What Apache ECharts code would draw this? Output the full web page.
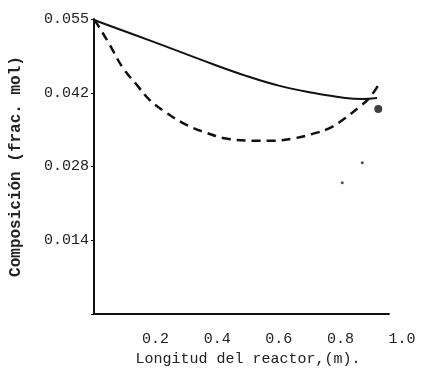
<!DOCTYPE html>
<html><head><meta charset="utf-8">
<script src="https://cdn.jsdelivr.net/npm/echarts@6/dist/echarts.min.js"></script>
<style>html,body{margin:0;padding:0;background:#fff}#c{width:424px;height:372px}</style>
</head><body><div id="c"></div>
<script>
// Solid curve: [longitud (m), composición]
const solidX = [0, 0.187, 0.387, 0.494, 0.603, 0.71, 0.816, 0.871, 0.919];
const solidY = [0.0558, 0.0518, 0.0474, 0.0452, 0.0433, 0.0420, 0.0410, 0.0408, 0.0410];
// Dashed curve
const dashX = [0, 0.013, 0.052, 0.094, 0.139, 0.181, 0.235, 0.30, 0.365, 0.429, 0.516, 0.581, 0.645, 0.71, 0.765, 0.816, 0.861, 0.894, 0.926];
const dashY = [0.0558, 0.0548, 0.0510, 0.0467, 0.0435, 0.0406, 0.0382, 0.0359, 0.0344, 0.0333, 0.0329, 0.0329, 0.0333, 0.0342, 0.0353, 0.0372, 0.0393, 0.0410, 0.0437];
// Isolated points
const bigDotX = [0.923];
const bigDotY = [0.0389];
const smallDotX = [0.871, 0.806];
const smallDotY = [0.0287, 0.0249];
// Axis ticks / labels
const yTickValues = [0.014, 0.028, 0.042, 0.056];
const yTickLabels = ['0.014', '0.028', '0.042', '0.055'];
const xTickLabels = {0.2: '0.2', 0.4: '0.4', 0.6: '0.6', 0.8: '0.8', 1: '1.0'};
// Drawn extent of the horizontal axis line (stops short of 1.0)
const xAxisLineX = [0, 0.96];
const xAxisLineY = [0, 0];

const zip = (a, b) => a.map((v, i) => [v, b[i]]);
const font = '"Liberation Mono", "DejaVu Sans Mono", monospace';

const chart = echarts.init(document.getElementById('c'), null, {renderer: 'canvas'});
chart.setOption({
  animation: false,
  backgroundColor: '#fff',
  grid: {left: 92, right: 22, top: 19, bottom: 58},
  xAxis: {
    type: 'value', min: 0, max: 1, interval: 0.2,
    name: 'Longitud del reactor,(m).', nameLocation: 'middle', nameGap: 37,
    nameTextStyle: {fontFamily: font, fontSize: 15, color: '#222'},
    axisLine: {show: false},
    axisTick: {show: false},
    splitLine: {show: false},
    axisLabel: {
      margin: 18, fontFamily: font, fontSize: 15, color: '#222',
      formatter: v => xTickLabels[Math.round(v * 10) / 10] || ''
    }
  },
  yAxis: {
    type: 'value', min: 0, max: 0.056, interval: 0.014,
    name: 'Composición (frac. mol)', nameLocation: 'middle', nameGap: 70, nameRotate: 90,
    nameTextStyle: {fontFamily: font, fontSize: 16, color: '#222', fontWeight: 'bold'},
    axisLine: {show: true, lineStyle: {color: '#111', width: 2}},
    axisTick: {show: true, length: 3, lineStyle: {color: '#111'}},
    splitLine: {show: false},
    axisLabel: {
      margin: 5, fontFamily: font, fontSize: 15, color: '#222',
      formatter: v => {
        const i = yTickValues.findIndex(t => Math.abs(t - v) < 1e-6);
        return i >= 0 ? yTickLabels[i] : '';
      }
    }
  },
  series: [
    {type: 'line', data: zip(xAxisLineX, xAxisLineY), symbol: 'none', silent: true,
     lineStyle: {color: '#111', width: 2}},
    {type: 'line', data: zip(solidX, solidY), smooth: 0.4, symbol: 'none',
     lineStyle: {color: '#111', width: 2}},
    {type: 'line', data: zip(dashX, dashY), smooth: 0.4, symbol: 'none',
     lineStyle: {color: '#111', width: 2.5, type: [9, 6]}},
    {type: 'scatter', data: zip(bigDotX, bigDotY), symbolSize: 8,
     itemStyle: {color: '#111'}},
    {type: 'scatter', data: zip(smallDotX, smallDotY), symbolSize: 3,
     itemStyle: {color: '#222'}}
  ]
});
</script></body></html>
